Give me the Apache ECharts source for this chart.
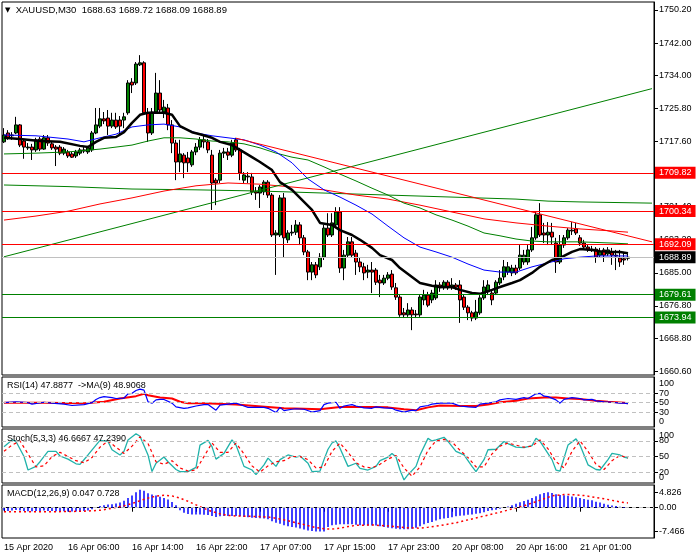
<!DOCTYPE html>
<html><head><meta charset="utf-8">
<script src="https://cdn.jsdelivr.net/npm/echarts@6/dist/echarts.min.js"></script>
<style>html,body{margin:0;padding:0;background:#fff}#c{width:700px;height:560px}</style>
</head><body><div id="c"></div>
<script>
const FONT = "'Liberation Sans', Arial, sans-serif";
const symbolName = 'XAUUSD,M30';
const lastOHLC = ['1688.63', '1689.72', '1688.09', '1688.89'];
const tickLabels = ['15 Apr 2020','16 Apr 06:00','16 Apr 14:00','16 Apr 22:00','17 Apr 07:00','17 Apr 15:00','17 Apr 23:00','20 Apr 08:00','20 Apr 16:00','21 Apr 01:00'];
const tickEvery = 16;
const emptyBarsRight = 6;

// candles: [open, close, low, high]
const candles = [
[1717.5,1719.2,1717.2,1720.9],[1719.7,1718.5,1718.0,1720.4],[1719.0,1719.2,1718.0,1719.9],[1719.7,1721.7,1719.4,1723.7],
[1721.7,1716.7,1716.2,1721.9],[1717.7,1716.2,1713.3,1718.2],[1716.0,1716.2,1715.5,1717.2],[1716.2,1715.5,1713.0,1717.0],
[1715.5,1718.0,1715.0,1718.5],[1718.2,1715.7,1715.2,1718.7],[1715.7,1718.5,1715.5,1719.2],[1718.5,1717.2,1716.5,1719.2],
[1717.0,1716.0,1715.5,1717.5],[1716.2,1715.7,1711.5,1716.7],[1716.2,1714.7,1714.2,1716.7],[1714.7,1715.7,1714.2,1716.2],
[1715.0,1714.0,1713.5,1715.5],[1714.5,1713.7,1713.5,1715.0],[1714.0,1715.0,1713.5,1715.5],[1714.7,1715.5,1714.2,1716.0],
[1715.5,1715.2,1714.7,1716.2],[1715.0,1716.0,1714.5,1716.5],[1715.5,1719.7,1715.0,1720.2],[1719.7,1721.7,1719.4,1725.9],
[1721.4,1723.2,1720.9,1725.9],[1723.2,1722.7,1721.9,1724.9],[1723.4,1721.4,1719.2,1725.4],[1721.4,1722.9,1720.9,1724.7],
[1722.9,1721.2,1720.7,1724.7],[1722.9,1721.4,1719.2,1723.9],[1722.9,1723.7,1720.9,1724.7],[1724.7,1732.1,1724.2,1732.8],
[1732.3,1731.6,1729.6,1733.3],[1732.1,1736.8,1731.6,1737.3],[1736.6,1737.1,1736.3,1739.0],[1737.1,1724.7,1724.4,1737.5],
[1724.7,1719.7,1717.5,1725.9],[1719.7,1724.9,1719.2,1725.9],[1724.9,1729.6,1724.7,1734.6],[1729.6,1725.4,1724.9,1732.8],
[1724.9,1726.1,1723.4,1727.9],[1725.9,1721.7,1720.4,1726.9],[1721.7,1717.2,1714.7,1722.9],[1717.2,1712.5,1708.0,1718.0],
[1712.5,1714.5,1710.0,1718.0],[1714.2,1712.3,1708.5,1714.7],[1713.5,1712.3,1710.0,1715.0],[1711.8,1715.0,1711.3,1715.5],
[1715.0,1716.2,1714.2,1717.2],[1716.2,1718.0,1715.5,1718.7],[1718.0,1717.5,1715.9,1719.2],[1717.5,1715.5,1714.7,1718.2],
[1714.2,1707.3,1700.6,1715.5],[1708.0,1707.3,1701.8,1708.5],[1708.0,1714.7,1707.3,1715.5],[1714.7,1715.0,1713.5,1716.0],
[1715.0,1714.2,1713.0,1716.0],[1714.2,1717.2,1713.7,1718.0],[1718.0,1715.5,1715.0,1718.5],[1715.5,1709.8,1708.0,1716.0],
[1708.0,1709.3,1707.3,1710.0],[1708.8,1709.0,1707.3,1710.0],[1708.8,1705.1,1704.3,1709.8],[1705.1,1704.8,1703.1,1706.3],
[1704.8,1706.3,1701.1,1706.8],[1705.1,1707.5,1704.3,1708.0],[1707.5,1704.3,1703.6,1708.0],[1704.3,1694.4,1693.9,1704.8],
[1694.4,1694.9,1684.5,1695.6],[1694.4,1703.6,1693.9,1704.3],[1703.6,1693.7,1688.9,1704.8],[1693.2,1694.9,1692.4,1695.6],
[1694.9,1695.1,1694.2,1696.9],[1695.1,1696.9,1694.4,1698.1],[1696.9,1693.7,1691.9,1697.6],[1693.7,1690.2,1689.4,1694.4],
[1690.2,1685.2,1683.2,1690.7],[1685.2,1687.0,1683.2,1687.7],[1687.0,1684.5,1683.7,1687.7],[1686.5,1688.9,1685.7,1689.9],
[1688.9,1696.1,1688.2,1696.9],[1696.1,1694.4,1693.9,1699.8],[1694.4,1697.4,1693.9,1699.8],[1696.9,1700.1,1696.1,1701.3],
[1700.1,1686.2,1685.0,1701.3],[1686.2,1689.4,1683.2,1690.7],[1689.4,1692.7,1688.9,1693.9],[1692.7,1689.4,1688.7,1693.9],
[1689.9,1687.7,1684.5,1690.7],[1687.7,1686.5,1685.2,1688.7],[1686.5,1685.0,1683.2,1687.5],[1685.2,1685.7,1683.7,1687.0],
[1685.7,1685.2,1680.0,1687.7],[1685.7,1682.7,1682.0,1686.2],[1683.2,1682.5,1679.0,1684.5],[1682.5,1683.7,1682.0,1684.5],
[1683.7,1684.5,1683.2,1685.2],[1684.7,1681.5,1680.8,1685.7],[1681.3,1679.0,1678.3,1682.5],[1679.0,1674.6,1674.1,1679.5],
[1675.1,1674.6,1673.8,1676.3],[1674.6,1675.8,1674.1,1677.5],[1675.8,1674.6,1670.8,1676.5],[1674.8,1674.6,1673.8,1675.8],
[1674.6,1679.0,1674.1,1679.5],[1678.3,1679.5,1677.0,1680.8],[1679.5,1677.0,1676.5,1680.3],[1678.3,1680.0,1677.5,1680.8],
[1678.8,1682.0,1678.3,1683.2],[1682.0,1681.3,1680.3,1682.7],[1681.3,1682.7,1680.8,1683.2],[1682.7,1681.3,1680.8,1683.2],
[1681.3,1682.0,1680.8,1683.7],[1682.0,1681.5,1680.8,1682.5],[1682.0,1678.3,1672.6,1683.2],[1679.0,1676.5,1675.8,1679.5],
[1676.5,1675.1,1673.3,1677.0],[1675.1,1673.8,1673.0,1675.6],[1673.8,1675.3,1673.3,1678.3],[1675.1,1678.8,1674.6,1679.5],
[1678.8,1681.5,1678.3,1683.2],[1680.3,1682.0,1679.5,1683.2],[1680.0,1678.3,1677.0,1680.8],[1680.0,1682.7,1679.5,1683.2],
[1682.5,1683.7,1682.0,1685.7],[1684.0,1686.5,1683.2,1688.2],[1685.2,1686.5,1684.5,1687.7],[1685.0,1686.2,1684.2,1687.0],
[1686.2,1685.0,1684.5,1687.0],[1686.2,1689.4,1685.7,1691.9],[1687.7,1689.4,1687.0,1690.7],[1687.7,1690.7,1687.0,1691.9],
[1690.7,1693.7,1690.2,1696.4],[1693.7,1699.4,1693.2,1700.1],[1699.4,1694.4,1693.9,1702.3],[1694.9,1694.4,1692.4,1697.4],
[1694.4,1695.1,1691.9,1697.6],[1695.1,1693.9,1691.9,1697.4],[1692.4,1687.7,1685.0,1693.7],[1687.7,1691.9,1687.2,1694.4],
[1691.9,1693.7,1691.2,1694.4],[1693.7,1695.6,1693.2,1696.1],[1695.6,1695.4,1694.4,1697.6],[1695.9,1694.9,1694.4,1697.4],
[1693.7,1692.4,1691.7,1694.4],[1692.4,1691.4,1690.7,1693.2],[1691.4,1690.9,1690.2,1691.9],[1690.9,1690.7,1690.2,1691.7],
[1690.9,1688.9,1687.5,1691.4],[1689.4,1690.2,1688.7,1691.2],[1690.7,1689.4,1687.7,1691.2],[1689.7,1690.7,1689.2,1691.4],
[1690.2,1689.4,1687.0,1691.2],[1689.4,1689.2,1685.7,1690.7],[1688.7,1687.7,1686.5,1690.7],[1688.5,1688.2,1687.0,1690.2],
[1688.63,1688.89,1688.09,1689.72]
];

// moving averages [barIndex, price]
const maBlack = [[0,1718.5],[4,1718.2],[9,1717.7],[14,1717.5],[19,1716.5],[21,1716.2],[23,1717.5],[25,1718.5],[28,1718.7],[30,1719.9],[32,1722.2],[34,1724.2],[36,1724.7],[38,1724.7],[40,1724.7],[42,1724.2],[44,1721.4],[47,1719.9],[49,1719.4],[52,1718.5],[54,1717.5],[57,1716.7],[59,1715.5],[62,1713.7],[64,1712.5],[67,1710.5],[69,1707.5],[72,1705.6],[74,1703.6],[77,1700.6],[79,1697.4],[82,1696.9],[84,1695.6],[87,1694.4],[89,1693.2],[92,1691.2],[94,1689.4],[97,1688.2],[99,1686.2],[102,1684.0],[104,1682.5],[107,1681.8],[109,1681.5],[112,1681.5],[114,1680.8],[117,1680.0],[119,1679.8],[122,1680.8],[124,1681.5],[127,1682.5],[129,1683.2],[132,1685.0],[134,1686.5],[137,1688.2],[139,1688.7],[142,1690.2],[144,1690.9],[147,1690.7],[149,1690.4],[152,1690.2],[154,1690.2],[156,1689.9]];
const maBlue = [[0,1719.2],[8,1719.0],[16,1718.2],[20,1717.5],[24,1718.5],[28,1719.4],[32,1721.2],[36,1721.7],[40,1721.9],[44,1721.2],[48,1719.7],[52,1719.0],[56,1718.5],[60,1718.0],[64,1716.7],[68,1715.0],[72,1712.3],[76,1708.3],[80,1705.6],[84,1703.8],[88,1701.8],[92,1699.6],[96,1696.6],[100,1693.7],[104,1691.4],[108,1690.2],[112,1688.9],[116,1687.2],[120,1685.7],[124,1685.2],[128,1685.2],[132,1686.5],[136,1687.5],[140,1688.5],[144,1688.9],[148,1689.2],[152,1689.2],[156,1689.2]];
const maGreen = [[0,1714.5],[8,1714.7],[16,1715.0],[24,1715.7],[32,1716.7],[36,1717.7],[40,1718.5],[44,1718.5],[48,1718.2],[52,1717.7],[56,1717.5],[60,1717.0],[64,1716.0],[68,1714.7],[72,1713.7],[76,1713.0],[80,1711.3],[84,1709.5],[88,1707.8],[92,1706.0],[96,1704.3],[100,1702.3],[104,1701.1],[108,1699.4],[112,1698.1],[116,1696.6],[120,1694.9],[124,1694.2],[128,1693.4],[132,1692.9],[136,1692.7],[144,1692.7],[152,1692.4],[156,1692.2]];
const maRed = [[0,1698.1],[8,1699.1],[16,1700.3],[24,1702.1],[32,1703.6],[40,1705.3],[48,1706.6],[56,1707.3],[64,1707.0],[72,1706.3],[80,1705.6],[88,1704.3],[96,1703.3],[104,1701.8],[112,1700.1],[120,1698.4],[128,1697.4],[136,1696.6],[144,1695.9],[152,1695.4],[156,1695.1]];
const maLongGreen = [[0,1706.8],[16,1706.4],[32,1705.8],[48,1705.6],[64,1705.3],[80,1704.8],[96,1704.3],[112,1703.8],[128,1703.3],[136,1702.8],[144,1702.6],[162,1702.3]];

// drawn trend lines and levels
const greenTrend = [[0,1689.0],[162,1730.7]];
const redTrend = [[58,1718.4],[162,1692.7]];
const redLevels = [1709.82, 1700.34, 1692.09];
const greenLevels = [1679.61, 1673.94];
const lastPrice = 1688.89;
const priceTicks = [1750.2, 1742.0, 1734.0, 1725.8, 1717.6, 1709.4, 1701.4, 1693.2, 1685.0, 1676.8, 1668.8, 1660.6];

// RSI(14) and its MA(9)
const rsiLast = ['47.8877', '48.9068'];
const rsi = [[0,50],[3,52],[6,50],[7,47],[10,51],[12,49],[15,47],[17,44],[20,46],[22,50],[23,57],[24,61],[25,63],[27,61],[28,59],[30,60],[31,69],[32,70],[33,76],[34,79],[35,77],[36,52],[37,49],[38,56],[39,57],[40,57],[42,49],[43,41],[45,38],[46,39],[48,43],[50,46],[51,46],[53,34],[54,45],[56,47],[58,49],[60,43],[61,40],[63,40],[65,40],[66,38],[68,29],[69,40],[70,33],[72,36],[73,37],[75,36],[77,30],[79,33],[80,46],[81,49],[83,51],[84,38],[85,43],[87,46],[88,43],[90,39],[92,38],[93,41],[95,39],[97,38],[98,34],[100,30],[102,34],[103,33],[104,41],[106,44],[107,47],[109,49],[111,49],[112,49],[114,43],[116,41],[118,40],[119,47],[121,49],[123,52],[124,56],[126,59],[128,57],[130,61],[131,59],[133,69],[134,70],[135,64],[136,63],[138,56],[139,49],[140,57],[142,61],[144,59],[145,56],[147,57],[148,54],[150,52],[152,51],[154,49],[155,49],[156,47.9]];
const rsiMa = [[0,50],[10,50],[20,49],[25,52],[29,59],[33,64],[35,69],[36,66],[39,61],[42,59],[44,52],[46,49],[50,49],[58,46],[66,41],[70,38],[75,37],[79,36],[84,41],[92,41],[96,40],[100,36],[103,34],[106,40],[109,44],[114,43],[118,43],[121,46],[124,51],[128,54],[131,59],[135,61],[138,61],[141,59],[144,58],[148,54],[151,52],[155,50],[156,48.9]];
const rsiLevels = [70, 50, 30];
const rsiScale = [0, 100];

// Stochastic(5,3,3)
const stochLast = ['46.6667', '47.2390'];
const stochMain = [[0,69],[2,82],[3,79],[5,50],[6,24],[8,31],[9,40],[11,60],[13,60],[14,51],[16,45],[18,36],[19,35],[21,53],[23,72],[24,81],[26,79],[27,63],[29,53],[30,60],[31,82],[33,94],[34,89],[36,53],[37,21],[38,37],[40,49],[41,40],[43,25],[44,21],[46,21],[48,29],[49,72],[51,81],[52,69],[53,45],[55,56],[57,82],[58,72],[60,31],[62,24],[63,15],[65,34],[66,47],[68,31],[69,44],[71,53],[73,49],[74,51],[76,37],[77,21],[79,22],[80,44],[81,64],[82,76],[83,80],[84,66],[86,31],[88,37],[89,27],[91,24],[93,31],[94,42],[96,49],[97,56],[98,49],[99,24],[100,5],[101,15],[103,31],[104,53],[106,85],[107,80],[108,82],[110,87],[111,79],[113,60],[115,53],[117,31],[118,21],[120,44],[121,63],[123,64],[125,79],[126,75],[128,68],[130,67],[132,71],[133,85],[134,79],[137,44],[138,24],[139,22],[141,72],[143,84],[144,72],[146,34],[148,25],[149,24],[151,44],[152,56],[154,53],[155,49],[156,46.7]];
const stochSignal = [[0,60],[2,72],[4,80],[6,55],[8,30],[10,32],[12,50],[14,58],[16,50],[18,42],[20,38],[22,48],[24,68],[26,80],[28,68],[30,56],[32,70],[34,88],[36,75],[38,40],[40,35],[42,42],[44,28],[46,22],[48,24],[50,50],[52,76],[54,58],[56,58],[58,76],[60,55],[62,32],[64,20],[66,32],[68,40],[70,42],[72,50],[74,50],[76,44],[78,28],[80,30],[82,60],[84,76],[86,58],[88,38],[90,30],[92,28],[94,35],[96,45],[98,52],[100,28],[102,12],[104,30],[106,62],[108,80],[110,83],[112,78],[114,62],[116,48],[118,30],[120,30],[122,55],[124,70],[126,76],[128,72],[130,68],[132,70],[134,82],[136,65],[138,40],[140,28],[142,60],[144,80],[146,60],[148,35],[150,25],[152,42],[154,52],[156,47.2]];
const stochLevels = [80, 50, 20];
const stochScale = [0, 100];

// MACD(12,26,9)
const macdLast = ['0.047', '0.728'];
const macdHist = [-0.9,-1.0,-0.9,-0.7,-0.9,-1.0,-1.1,-1.1,-1.0,-1.0,-0.9,-1.0,-1.0,-1.1,-1.1,-1.1,-1.2,-1.2,-1.2,-1.1,-1.0,-0.9,
-0.5,0.1,0.5,0.8,1.0,1.1,1.3,1.6,2.2,3.0,3.8,4.8,5.6,5.3,4.5,4.1,3.8,3.4,3.0,2.6,1.8,0.8,
-0.8,-1.6,-2.0,-2.1,-2.1,-2.1,-2.2,-2.3,-2.6,-2.9,-2.7,-2.6,-2.6,-2.6,-2.6,-2.7,-2.9,-3.0,-3.1,-3.2,-3.3,-3.4,-3.6,
-4.2,-4.7,-5.0,-5.5,-5.8,-6.0,-6.2,-6.5,-6.8,-7.1,-7.3,-7.4,-7.45,-7.47,
-6.0,-5.5,-5.3,-5.2,-5.2,-5.2,-5.2,-5.3,-5.5,-5.5,-5.6,-5.6,-5.6,-5.8,-6.0,-6.3,-6.4,-6.6,-6.7,-6.7,-6.7,-6.6,-6.3,
-5.8,-5.2,-4.8,-4.5,-4.0,-3.6,-3.4,-3.2,-3.0,-2.7,-2.5,-2.4,-2.2,-2.1,-1.9,-1.7,-1.4,-1.0,-0.8,-0.6,-0.3,-0.05,
0.4,0.8,1.25,1.7,2.1,2.5,3.0,3.6,4.2,4.6,4.8,4.6,4.2,4.0,3.9,3.75,3.5,3.3,3.0,2.7,2.5,2.3,1.9,1.6,1.25,0.9,0.7,0.5,0.3,0.2,0.047];
const macdSignal = [[0,-1.3],[10,-1.3],[20,-1.1],[24,-0.8],[26,-0.4],[28,0.1],[30,0.6],[32,1.3],[34,2.2],[36,3.0],[38,3.6],[40,3.9],[42,3.7],[44,3.0],[46,2.0],[48,0.9],[50,-0.2],[52,-1.2],[54,-1.9],[56,-2.4],[58,-2.6],[62,-2.7],[66,-2.9],[68,-3.3],[70,-3.8],[72,-4.4],[74,-5.0],[76,-5.6],[78,-6.2],[80,-6.6],[82,-6.7],[84,-6.4],[86,-5.9],[88,-5.5],[92,-5.4],[96,-5.7],[100,-6.2],[104,-6.4],[106,-6.1],[109,-5.6],[113,-4.7],[117,-3.5],[121,-2.3],[124,-1.4],[127,-0.4],[130,0.6],[133,1.9],[135,2.8],[137,3.7],[140,4.1],[142,4.1],[145,3.8],[147,3.4],[150,2.8],[152,2.3],[155,1.6],[156,1.5]];
const macdTicks = [4.826, 0, -7.466];

// ---------- chart ----------
const categories = Array.from({length: candles.length + emptyBarsRight}, (_, i) => i);
const txt = {fontSize: 9, fontFamily: FONT, color: '#000'};
const GRID_W = 652;
const grids = [
  {left: 2, top: 2, width: GRID_W, height: 373},
  {left: 2, top: 377, width: GRID_W, height: 50},
  {left: 2, top: 429, width: GRID_W, height: 54},
  {left: 2, top: 485, width: GRID_W, height: 53}
].map(g => Object.assign(g, {show: true, borderColor: '#000', borderWidth: 1, backgroundColor: 'transparent'}));

const isTick = i => i % tickEvery === 0 && i / tickEvery < tickLabels.length;
const xAxes = grids.map((g, k) => ({
  type: 'category', gridIndex: k, data: categories, boundaryGap: true,
  axisLine: {show: k === 3, lineStyle: {color: '#000'}},
  axisTick: {show: k === 3, alignWithLabel: true, interval: isTick, length: 4, lineStyle: {color: '#000'}},
  axisLabel: {show: k === 3, interval: isTick, formatter: (v, i) => tickLabels[i / tickEvery] || '', align: 'left', margin: 5, ...txt},
  splitLine: {show: false}
}));

function yAx(k, min, max, ticks, fmt, opts) {
  opts = opts || {};
  return {
    type: 'value', gridIndex: k, position: 'right', min, max, scale: true,
    axisLine: {show: opts.line !== false, lineStyle: {color: '#000'}},
    axisTick: {show: opts.line !== false, customValues: ticks, length: 4, lineStyle: {color: '#000'}},
    axisLabel: Object.assign({show: true, customValues: ticks, formatter: fmt, margin: 5,
      verticalAlign: opts.va || 'middle'}, txt),
    splitLine: {show: false}
  };
}
const RSI_R = [-2, 105], STO_R = [-1, 103];
const yAxes = [
  yAx(0, 1659.68, 1752.18, priceTicks, v => v.toFixed(2)),
  yAx(1, RSI_R[0], RSI_R[1], rsiLevels, v => String(v)),
  yAx(2, STO_R[0], STO_R[1], stochLevels, v => String(v)),
  yAx(3, -9.47, 7.1, macdTicks, v => v === 0 ? '0.00' : String(v)),
  // scale end labels (100 / 0), drawn just inside the panel like the terminal does
  yAx(1, RSI_R[0], RSI_R[1], [rsiScale[1]], v => String(v), {line: false, va: 'top'}),
  yAx(1, RSI_R[0], RSI_R[1], [rsiScale[0]], v => String(v), {line: false, va: 'bottom'}),
  yAx(2, STO_R[0], STO_R[1], [stochScale[1]], v => String(v), {line: false, va: 'top'}),
  yAx(2, STO_R[0], STO_R[1], [stochScale[0]], v => String(v), {line: false, va: 'bottom'})
];

const lineS = (data, color, width, xi, extra) => Object.assign({
  type: 'line', data, xAxisIndex: xi, yAxisIndex: xi, symbol: 'none', silent: true,
  lineStyle: {color, width}, z: 3
}, extra || {});

const levelLines = (vals) => ({
  symbol: ['none', 'none'], silent: true, label: {show: false},
  lineStyle: {color: '#c0c0c0', type: [4, 3], width: 1},
  data: vals.map(v => ({yAxis: v}))
});

const boxLabel = bg => ({backgroundColor: bg});
const option = {
  animation: false,
  backgroundColor: '#fff',
  title: [
    {text: '{tri|▼}  ' + symbolName + '  ' + lastOHLC.join(' '), left: 5, top: 5, padding: 0,
     textStyle: Object.assign({fontWeight: 'normal', rich: {tri: {fontSize: 7, fontFamily: 'DejaVu Sans', color: '#000'}}}, txt, {fontSize: 9.5})},
    {text: 'RSI(14) ' + rsiLast[0] + '  ->MA(9) ' + rsiLast[1], left: 7, top: 381, padding: 0, textStyle: Object.assign({fontWeight: 'normal'}, txt)},
    {text: 'Stoch(5,3,3) ' + stochLast.join(' '), left: 7, top: 434, padding: 0, textStyle: Object.assign({fontWeight: 'normal'}, txt)},
    {text: 'MACD(12,26,9) ' + macdLast.join(' '), left: 7, top: 489, padding: 0, textStyle: Object.assign({fontWeight: 'normal'}, txt)}
  ],
  grid: grids,
  xAxis: xAxes,
  yAxis: yAxes,
  series: [
    {
      type: 'candlestick', data: candles, xAxisIndex: 0, yAxisIndex: 0, barWidth: 3, silent: true, z: 2,
      itemStyle: {color: '#008000', color0: '#ff0000', borderColor: '#000', borderColor0: '#000', borderWidth: 1},
      markLine: {
        symbol: ['none', 'none'], silent: true,
        label: {show: true, position: 'end', distance: 1, formatter: p => Number(p.value).toFixed(2),
          color: '#fff', fontSize: 9, fontFamily: FONT, padding: [2, 4, 1, 4]},
        data: [
          {yAxis: lastPrice, lineStyle: {color: '#c0c0c0', width: 1, type: 'solid'}, label: boxLabel('#000')},
          ...redLevels.map(v => ({yAxis: v, lineStyle: {color: '#ff0000', width: 1, type: 'solid'}, label: boxLabel('#ff0000')})),
          ...greenLevels.map(v => ({yAxis: v, lineStyle: {color: '#008000', width: 1, type: 'solid'}, label: boxLabel('#008000')}))
        ]
      }
    },
    lineS(maLongGreen, '#008000', 1, 0),
    lineS(maRed, '#ff0000', 1, 0),
    lineS(maGreen, '#008000', 1, 0),
    lineS(maBlue, '#0000ff', 1, 0),
    lineS(greenTrend, '#008000', 1, 0),
    lineS(redTrend, '#ff0000', 1, 0),
    lineS(maBlack, '#000000', 2.5, 0, {z: 4}),
    lineS(rsiMa, '#ff0000', 2, 1, {markLine: levelLines(rsiLevels)}),
    lineS(rsi, '#0000ff', 1.2, 1),
    lineS(stochMain, '#20b2aa', 1.3, 2, {markLine: levelLines(stochLevels)}),
    lineS(stochSignal, '#ff0000', 1.2, 2, {lineStyle: {color: '#ff0000', width: 1.2, type: [3, 3]}}),
    {type: 'bar', data: macdHist, xAxisIndex: 3, yAxisIndex: 3, barWidth: 1.5, silent: true,
     itemStyle: {color: '#0000ff'}, markLine: levelLines([0])},
    lineS(macdSignal, '#ff0000', 1.5, 3, {lineStyle: {color: '#ff0000', width: 1.5, type: [2, 3]}})
  ]
};
const chart = echarts.init(document.getElementById('c'), null, {renderer: 'canvas'});
chart.setOption(option);
</script>
</body></html>
